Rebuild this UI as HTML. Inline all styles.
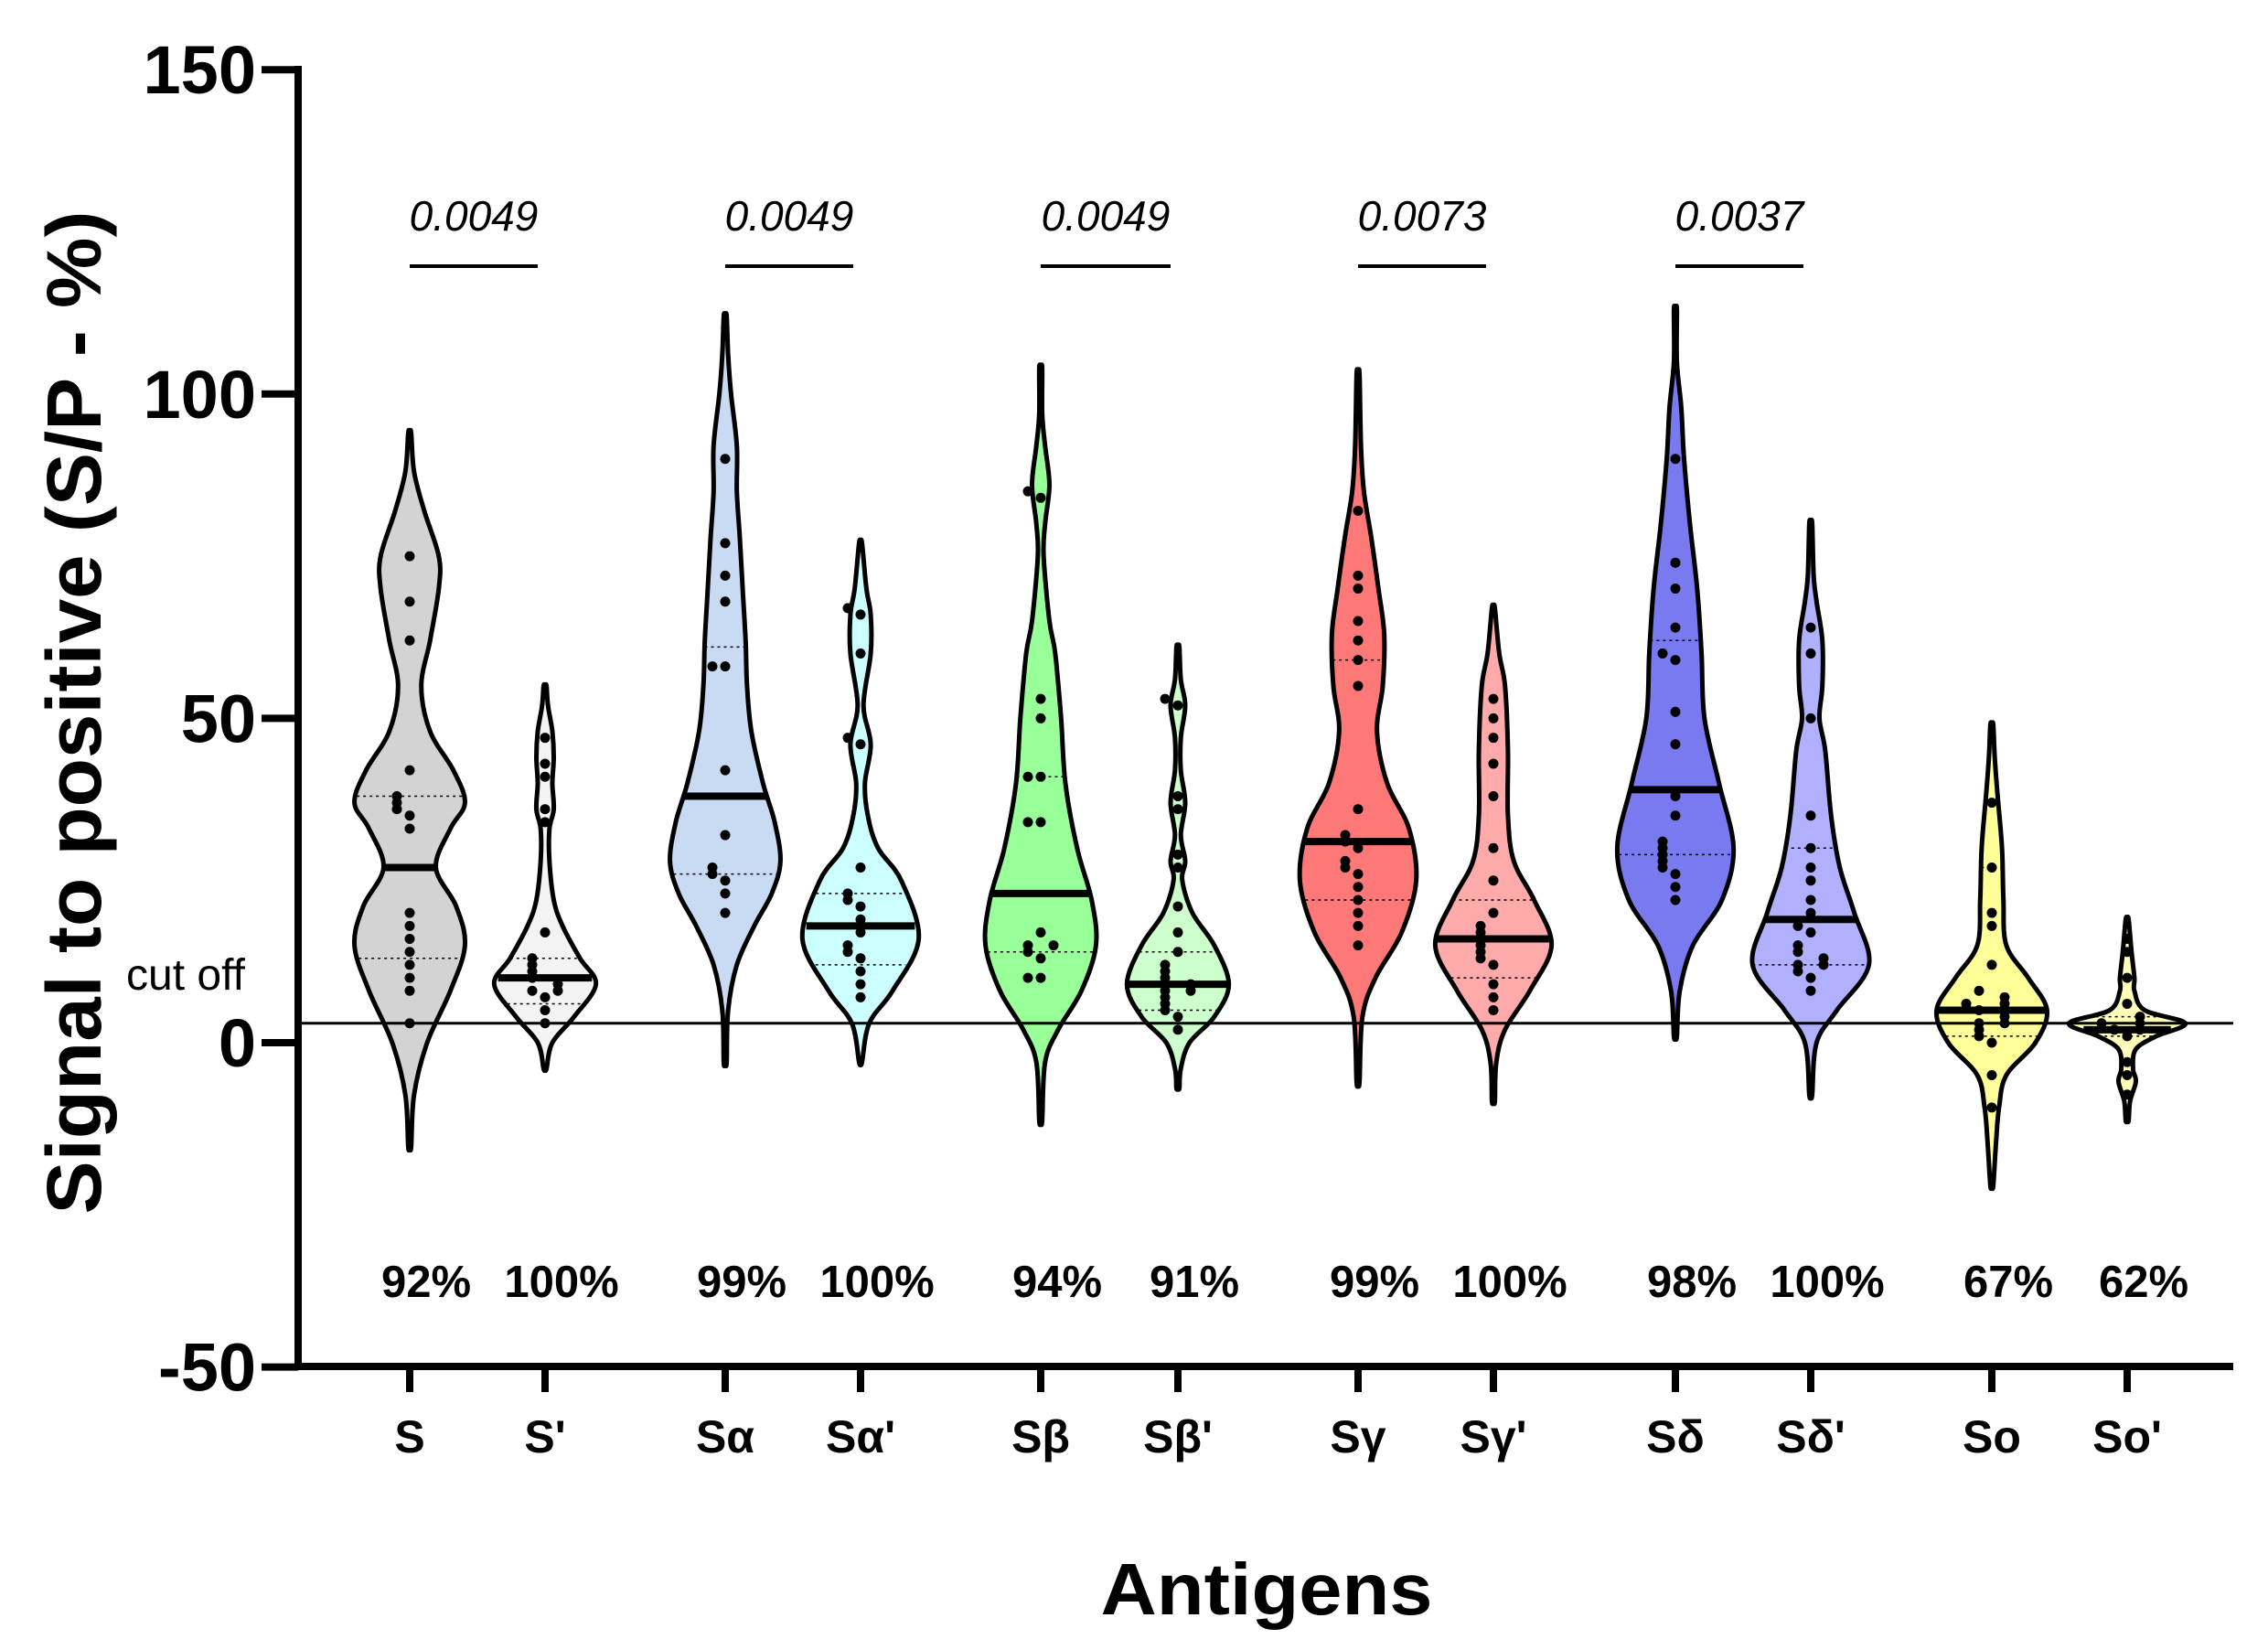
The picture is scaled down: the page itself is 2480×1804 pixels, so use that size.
<!DOCTYPE html>
<html><head><meta charset="utf-8"><style>
html,body{margin:0;padding:0;background:#fff;}
svg{display:block;font-family:"Liberation Sans",Arial,sans-serif;}
</style></head><body>
<svg id="chart" width="2480" height="1804" viewBox="0 0 2480 1804" xmlns="http://www.w3.org/2000/svg">
<g id="violins"></g>
<g id="axes"></g>
<g id="labels"></g>
</svg>
<script>
// ---- data ----
const categories = ["S","S'","Sα","Sα'","Sβ","Sβ'","Sγ","Sγ'","Sδ","Sδ'","So","So'"];
const percents = ["92%","100%","99%","100%","94%","91%","99%","100%","98%","100%","67%","62%"];
const pValues = ["0.0049","0.0049","0.0049","0.0073","0.0037"];
const yTicks = [150,100,50,0,-50];
const cutOff = 3;
const medians = [27,10,38,18,23,9,31,16,39,19,5,2];
const q1s = [13,6,26,12,14,5,22,10,29,12,1,1];
const q3s = [38,13,61,23,41,14,59,22,62,30,27,4];
const densV = [
 [-16,-8,0,8,15,21,27,33,37,42,48,55,62,70,75,82,88,94],
 [-4,0,4,9,13,18,22,28,33,36,40,44,48,52,55],
 [-3,5,12,18,23,28,34,40,48,55,62,70,78,85,92,100,106,112],
 [-3,3,8,16,25,30,35,40,46,52,60,66,70,77],
 [-12,-3,2,8,15,22,30,40,50,60,65,75,80,86,92,97,104],
 [-7,-4,0,4,9,15,20,25,28,32,37,42,47,52,56,61],
 [-6,4,10,17,25,33,40,48,55,63,70,78,85,92,103],
 [-9,-3,2,8,15,22,28,35,45,55,60,67],
 [1,8,15,22,30,40,50,60,70,80,90,98,105,113],
 [-8,0,5,12,20,27,35,45,50,55,62,68,72,80],
 [-22,-15,-10,-5,0,5,10,15,22,30,38,44,49],
 [-12,-9,-6,-4,-1,1,3,5,8,10,14,19]
];
const densW = [
 [1,3,12,28,38,32,18,28,38,30,14,8,14,20,20,10,3,1],
 [1,5,20,35,24,12,6,3,3,6,5,6,5,2,1],
 [1,2,8,20,32,38,34,26,18,15,14,12,10,8,8,4,2,1],
 [1,6,22,40,28,12,5,3,7,2,7,7,4,1],
 [1,3,12,28,38,35,25,17,14,10,6,2,3,6,3,1,1],
 [1,2,8,25,35,25,10,3,5,2,5,2,2,5,2,1],
 [1,3,12,30,40,35,20,13,17,18,14,9,4,2,1],
 [1,2,8,25,40,28,14,10,10,8,4,1],
 [1,3,12,32,40,30,20,18,15,10,6,4,1,1],
 [1,4,18,40,30,20,14,10,6,8,8,4,2,1],
 [1,3,5,10,30,38,25,10,8,7,4,2,1],
 [1,2,6,4,6,20,40,12,5,5,3,1]
];
const points = [
 [3,8,10,12,14,16,18,20,33,35,36,37,38,42,62,68,75],
 [3,5,7,8,8,9,10,11,12,13,17,34,36,41,43,47],
 [20,23,25,26,27,32,42,58,58,68,72,77,90],
 [7,9,11,13,14,15,17,19,21,22,23,27,46,47,60,66,67],
 [10,10,13,14,15,15,17,34,34,41,41,50,53,84,85],
 [2,4,5,6,7,8,8,9,10,11,12,14,17,21,27,29,36,38,52,53],
 [15,18,20,22,24,26,27,28,30,31,32,36,55,59,62,65,70,72,82],
 [5,7,9,12,13,14,15,16,17,18,20,25,30,38,43,47,50,53],
 [22,24,26,27,28,29,30,31,35,38,46,51,59,60,64,70,74,90],
 [8,10,11,12,12,13,14,15,17,18,20,22,25,27,30,35,50,60,64],
 [-10,-5,0,1,2,3,3,4,5,5,6,6,7,8,12,18,20,27,37],
 [-8,-5,-3,1,2,2,3,3,4,6,10,14,16]
];
const fills = ["#d3d3d3","#f3f3f3","#c9dbf3","#ccffff","#99ff99","#ccffcc","#ff7878","#ffaaaa","#7a7af0","#b0b0ff","#ffff99","#ffffbb"];

// ---- scales ----
const NS="http://www.w3.org/2000/svg";
const X0=326, XEND=2442;
function y(v){return 1140 - v*7.092;}
function x(i){const pos=[448,596,793,941,1138,1288,1485,1633,1832,1980,2178,2326];return pos[i];}
const WS=1.59;
function mk(tag,attrs,parent,text){const e=document.createElementNS(NS,tag);for(const k in attrs)e.setAttribute(k,attrs[k]);if(text!==undefined)e.textContent=text;parent.appendChild(e);return e;}
function widthAt(i,v){const vs=densV[i],ws=densW[i];if(v<=vs[0])return ws[0]*WS;for(let k=1;k<vs.length;k++){if(v<=vs[k]){const t=(v-vs[k-1])/(vs[k]-vs[k-1]);return (ws[k-1]+t*(ws[k]-ws[k-1]))*WS;}}return ws[ws.length-1]*WS;}
function spline(pts){let d="M"+pts[0][0]+","+pts[0][1];for(let k=0;k<pts.length-1;k++){const p0=pts[Math.max(0,k-1)],p1=pts[k],p2=pts[k+1],p3=pts[Math.min(pts.length-1,k+2)];const c1=[p1[0]+(p2[0]-p0[0])/6,p1[1]+(p2[1]-p0[1])/6],c2=[p2[0]-(p3[0]-p1[0])/6,p2[1]-(p3[1]-p1[1])/6];d+=" C"+c1[0].toFixed(1)+","+c1[1].toFixed(1)+" "+c2[0].toFixed(1)+","+c2[1].toFixed(1)+" "+p2[0].toFixed(1)+","+p2[1].toFixed(1);}return d;}

const gV=document.getElementById('violins');
const gA=document.getElementById('axes');
const gL=document.getElementById('labels');

const cl=mk('line',{x1:X0,x2:XEND,y1:y(cutOff),y2:y(cutOff),stroke:'#000','stroke-width':3},gA);



categories.forEach((c,i)=>{
  const cx=x(i), vs=densV[i], ws=densW[i];
  const g=mk('g',{},gV);
  
  
  const right=vs.map((v,k)=>[cx+ws[k]*WS,y(v)]);
  const left=vs.map((v,k)=>[cx-ws[k]*WS,y(v)]).reverse();
  const top=[cx,y(vs[vs.length-1])], bot=[cx,y(vs[0])];
  const pr=[bot].concat(right,[top]);
  const pl=[top].concat(left,[bot]);
  const d=spline(pr)+" "+spline(pl).replace(/^M[^C]*/,'')+" Z";
  const p=mk('path',{d:d,fill:fills[i],stroke:'#000','stroke-width':5,'stroke-linejoin':'round'},g);
  
  
  [q1s[i],q3s[i]].forEach(q=>{const w=widthAt(i,q);const l=mk('line',{x1:cx-w,x2:cx+w,y1:y(q),y2:y(q),stroke:'#000','stroke-width':1.5,'stroke-dasharray':'3,4'},g);
    
    });
  const mw=widthAt(i,medians[i]);
  const ml=mk('line',{x1:cx-mw,x2:cx+mw,y1:y(medians[i]),y2:y(medians[i]),stroke:'#000','stroke-width':8},g);
  
  
  const placed=[];
  points[i].forEach(v=>{let n=placed.filter(u=>Math.abs(u-v)<1.6).length;placed.push(v);const off=[0,-14,14,-28,28,-42,42][n%7];
    const dot=mk('circle',{cx:cx+off,cy:y(v),r:5.5,fill:'#000'},g);
    
    });
  const t=mk('line',{x1:cx,x2:cx,y1:1494,y2:1522,stroke:'#000','stroke-width':8},gA);
  
  
  const tl=mk('text',{x:cx,y:1588,'text-anchor':'middle','font-size':50,'font-weight':'bold'},gL,c);
  
  
  const pc=mk('text',{x:cx+18,y:1418,'text-anchor':'middle','font-size':49,'font-weight':'bold'},gL,percents[i]);
  
  
});

pValues.forEach((p,k)=>{
  const a=x(2*k), b=x(2*k+1);
  const ln=mk('line',{x1:a,x2:b-8,y1:291,y2:291,stroke:'#000','stroke-width':4},gL);
  
  
  const tx=mk('text',{x:(a+b)/2-4,y:252,'text-anchor':'middle','font-size':46,'font-style':'italic'},gL,p);
  
  
});

const ya=mk('line',{x1:X0,x2:X0,y1:72,y2:1498,stroke:'#000','stroke-width':8},gA);


const xa=mk('line',{x1:X0-4,x2:XEND,y1:1494,y2:1494,stroke:'#000','stroke-width':8},gA);


yTicks.forEach(v=>{
  const t=mk('line',{x1:286,x2:X0,y1:y(v),y2:y(v),stroke:'#000','stroke-width':8},gA);
  
  
  const l=mk('text',{x:280,y:y(v)+26,'text-anchor':'end','font-size':74,'font-weight':'bold'},gL,String(v));
  
  
});
const co=mk('text',{x:138,y:1082,'font-size':48},gL,'cut off');


const yt=mk('text',{x:0,y:0,'text-anchor':'middle','font-size':84,'font-weight':'bold',textLength:1097,lengthAdjust:'spacingAndGlyphs',transform:'translate(110,779) rotate(-90)'},gL,'Signal to positive (S/P - %)');


const xt=mk('text',{x:1385,y:1765,'text-anchor':'middle','font-size':80,'font-weight':'bold',textLength:363,lengthAdjust:'spacingAndGlyphs'},gL,'Antigens');


</script>
</body></html>
